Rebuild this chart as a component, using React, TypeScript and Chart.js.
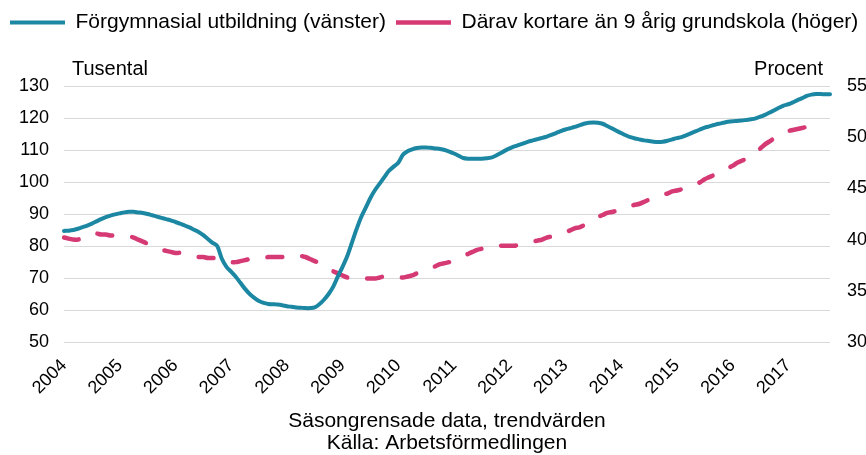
import React, { useEffect, useRef } from 'react';
import { Chart, registerables } from 'chart.js';

Chart.register(...registerables);

// ---- Data ----
const years = ['2004', '2005', '2006', '2007', '2008', '2009', '2010', '2011', '2012', '2013', '2014', '2015', '2016', '2017'];
const months = ['01', '02', '03', '04', '05', '06', '07', '08', '09', '10', '11', '12'];

// Förgymnasial utbildning (vänster), tusental, monthly Jan 2004 – Oct 2017
const forgymnasial = [
  84.7, 84.8, 85.0, 85.4, 85.9, 86.4, 87.0, 87.7, 88.4, 89.0, 89.5, 89.9,
  90.2, 90.5, 90.7, 90.7, 90.5, 90.3, 90.0, 89.6, 89.2, 88.8, 88.4, 88.0,
  87.5, 87.0, 86.4, 85.8, 85.1, 84.4, 83.4, 82.2, 81.0, 80.0, 76.0, 73.5,
  72.0, 70.4, 68.5, 66.6, 65.0, 63.8, 62.8, 62.2, 61.9, 61.8, 61.7, 61.5,
  61.2, 61.0, 60.8, 60.7, 60.6, 60.6, 60.8, 61.8, 63.2, 65.0, 67.3, 70.5,
  73.5, 76.8, 81.0, 85.2, 89.0, 92.0, 95.0, 97.5, 99.5, 101.5, 103.5, 104.8,
  106.0, 108.5, 109.6, 110.2, 110.6, 110.8, 110.8, 110.7, 110.5, 110.3, 110.0, 109.5,
  108.9, 108.2, 107.5, 107.3, 107.3, 107.3, 107.3, 107.4, 107.6, 108.2, 109.0, 109.8,
  110.5, 111.1, 111.6, 112.1, 112.6, 113.0, 113.4, 113.8, 114.2, 114.7, 115.3, 115.9,
  116.4, 116.8, 117.2, 117.7, 118.2, 118.5, 118.6, 118.5, 118.2, 117.5, 116.8, 116.0,
  115.3, 114.6, 114.0, 113.6, 113.3, 113.0, 112.8, 112.6, 112.5, 112.6, 112.9, 113.3,
  113.7, 114.0, 114.6, 115.2, 115.8, 116.4, 117.0, 117.4, 117.8, 118.2, 118.5, 118.8,
  119.0, 119.1, 119.2, 119.4, 119.6, 119.9, 120.4, 121.0, 121.7, 122.4, 123.2, 123.9,
  124.3, 124.9, 125.6, 126.2, 126.9, 127.3, 127.5, 127.5, 127.4, 127.4,
];

// Därav kortare än 9 årig grundskola (höger), procent
const kortare9 = [
  40.2, 40.1, 40.0, 40.0, 40.2, 40.4, 40.6, 40.6, 40.5, 40.5, 40.4, 40.4,
  40.4, 40.3, 40.3, 40.2, 40.0, 39.8, 39.6, 39.4, 39.2, 39.0, 38.9, 38.8,
  38.7, 38.7, 38.6, 38.5, 38.4, 38.3, 38.3, 38.2, 38.2, 38.2, 38.1, 38.0,
  37.8, 37.8, 37.9, 38.0, 38.1, 38.1, 38.2, 38.2, 38.3, 38.3, 38.3, 38.3,
  38.4, 38.4, 38.4, 38.4, 38.3, 38.1, 37.9, 37.7, 37.4, 37.1, 36.9, 36.7,
  36.5, 36.3, 36.2, 36.2, 36.2, 36.2, 36.2, 36.2, 36.3, 36.4, 36.3, 36.3,
  36.3, 36.3, 36.4, 36.5, 36.7, 36.8, 37.0, 37.2, 37.4, 37.6, 37.7, 37.8,
  38.0, 38.2, 38.4, 38.6, 38.8, 39.0, 39.1, 39.2, 39.3, 39.3, 39.4, 39.4,
  39.4, 39.4, 39.5, 39.6, 39.7, 39.8, 39.9, 40.0, 40.2, 40.3, 40.5, 40.6,
  40.7, 40.9, 41.1, 41.2, 41.4, 41.6, 41.9, 42.2, 42.4, 42.6, 42.7, 42.8,
  42.9, 43.1, 43.3, 43.4, 43.5, 43.7, 43.9, 44.1, 44.2, 44.4, 44.5, 44.7,
  44.8, 44.9, 45.0, 45.2, 45.4, 45.6, 45.9, 46.1, 46.3, 46.5, 46.7, 47.0,
  47.2, 47.5, 47.7, 47.9, 48.2, 48.5, 48.9, 49.3, 49.6, 49.9, 50.2, 50.4,
  50.6, 50.7, 50.8, 50.9, 51.0, 51.0, 51.1, 51.1, null, null,
];

const seriesLabels = ['Förgymnasial utbildning (vänster)', 'Därav kortare än 9 årig grundskola (höger)'];
const leftUnit = 'Tusental';
const rightUnit = 'Procent';
const bottomTitle = ['Säsongrensade data, trendvärden', 'Källa: Arbetsförmedlingen'];
const leftTicks = { min: 50, max: 130, step: 10 };
const rightTicks = { min: 30, max: 55, step: 5 };

const categories = years.flatMap((y) => months.map((m) => `${y}-${m}`)).slice(0, forgymnasial.length);

const FONT = "'Liberation Sans', Arial, sans-serif";
const BLUE = '#1c87a2';
const PINK = '#d63a75';

const unitLabelsPlugin = {
  id: 'unitLabels',
  afterDraw(chart: any) {
    const { ctx, chartArea } = chart;
    ctx.save();
    ctx.font = `20px ${FONT}`;
    ctx.fillStyle = '#000';
    ctx.textBaseline = 'middle';
    ctx.textAlign = 'left';
    ctx.fillText(leftUnit, chartArea.left + 8, chartArea.top - 17);
    ctx.textAlign = 'right';
    ctx.fillText(rightUnit, chartArea.right - 7, chartArea.top - 17);
    ctx.restore();
  },
};

export default function App() {
  const canvasRef = useRef<HTMLCanvasElement | null>(null);

  useEffect(() => {
    if (!canvasRef.current) return;
    const chart = new Chart(canvasRef.current, {
      type: 'line',
      data: {
        labels: categories,
        datasets: [
          {
            label: seriesLabels[0],
            data: forgymnasial,
            yAxisID: 'y',
            borderColor: BLUE,
            backgroundColor: BLUE,
            borderWidth: 4,
            pointRadius: 0,
            tension: 0.3,
            borderCapStyle: 'round',
          },
          {
            label: seriesLabels[1],
            data: kortare9,
            yAxisID: 'y1',
            borderColor: PINK,
            backgroundColor: PINK,
            borderWidth: 4.5,
            borderDash: [15, 20],
            borderCapStyle: 'round',
            pointRadius: 0,
            tension: 0.3,
          },
        ],
      },
      options: {
        animation: false,
        responsive: true,
        maintainAspectRatio: false,
        layout: { padding: { top: 2, right: 0, bottom: 0, left: 0 } },
        plugins: {
          legend: {
            position: 'top',
            align: 'start',
            labels: {
              usePointStyle: true,
              pointStyle: 'line',
              pointStyleWidth: 55,
              padding: 10,
              color: '#000',
              font: { family: FONT, size: 21 },
            },
          },
          title: {
            display: true,
            text: '',
            weight: 500,
            font: { size: 1, lineHeight: 1 },
            padding: { top: 0, bottom: 42 },
          },
          tooltip: { enabled: false },
        },
        scales: {
          x: {
            type: 'category',
            grid: { display: false, drawTicks: false },
            border: { display: false },
            ticks: {
              autoSkip: false,
              minRotation: 45,
              maxRotation: 45,
              padding: 13,
              color: '#000',
              font: { family: FONT, size: 18 },
              callback: (_v: any, i: number) => {
                const c = categories[i];
                return c && c.endsWith('-01') ? c.slice(0, 4) : null;
              },
            },
            title: {
              display: true,
              text: bottomTitle,
              color: '#000',
              font: { family: FONT, size: 21, lineHeight: 1.05 },
              padding: { top: 4, bottom: 1 },
            },
            afterFit: (s: any) => {
              s.height = 113;
            },
          },
          y: {
            position: 'left',
            min: leftTicks.min,
            max: leftTicks.max,
            grid: { color: '#d9d9d9', lineWidth: 1, drawTicks: false },
            border: { display: false },
            ticks: {
              stepSize: leftTicks.step,
              padding: 15,
              color: '#000',
              font: { family: FONT, size: 18 },
            },
            afterFit: (s: any) => {
              s.width = 64;
            },
          },
          y1: {
            position: 'right',
            min: rightTicks.min,
            max: rightTicks.max,
            grid: { display: false, drawTicks: false },
            border: { display: false },
            ticks: {
              stepSize: rightTicks.step,
              padding: 17,
              color: '#000',
              font: { family: FONT, size: 18 },
            },
            afterFit: (s: any) => {
              s.width = 70;
            },
          },
        },
      },
      plugins: [unitLabelsPlugin],
    } as any);
    return () => chart.destroy();
  }, []);

  return (
    <div style={{ position: 'fixed', left: 0, top: 0, width: 866, height: 455, overflow: 'hidden', background: '#fff' }}>
      <div style={{ position: 'relative', width: 900, height: 455 }}>
        <canvas ref={canvasRef} />
      </div>
    </div>
  );
}
